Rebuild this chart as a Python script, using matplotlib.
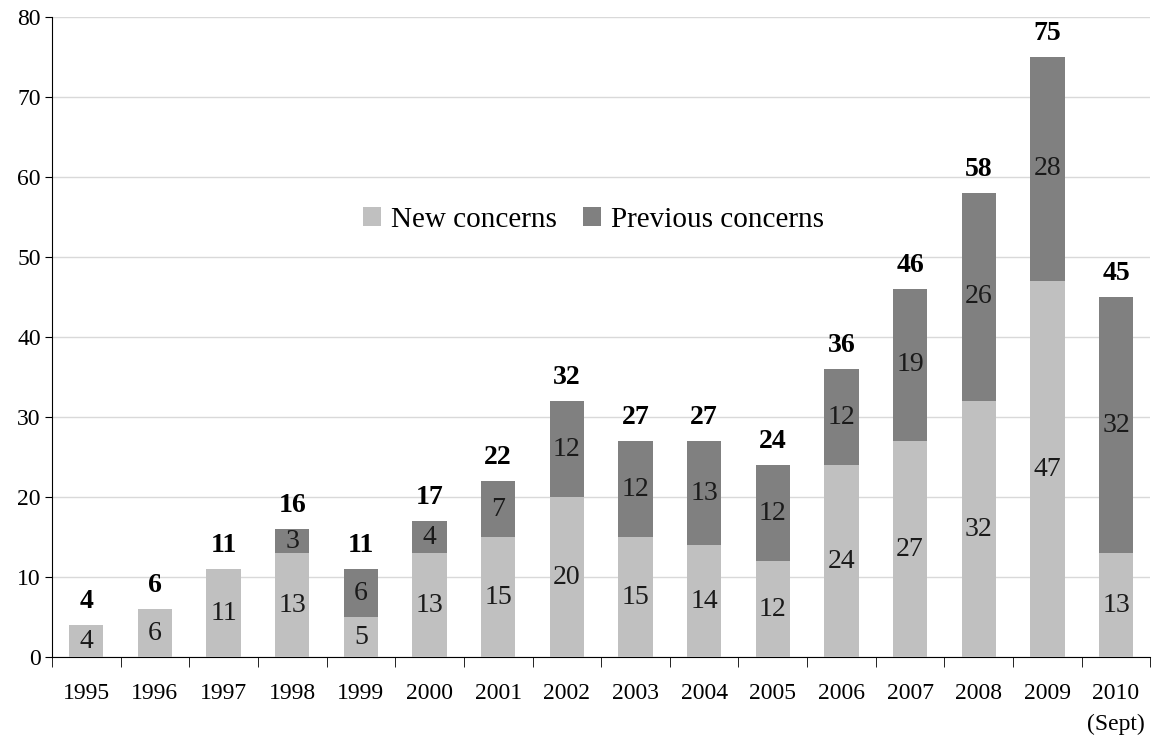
import matplotlib
matplotlib.use("Agg")
import matplotlib.pyplot as plt
import numpy as np

years = ["1995", "1996", "1997", "1998", "1999", "2000", "2001", "2002", "2003",
         "2004", "2005", "2006", "2007", "2008", "2009", "2010\n(Sept)"]
new_concerns = [4, 6, 11, 13, 5, 13, 15, 20, 15, 14, 12, 24, 27, 32, 47, 13]
prev_concerns = [0, 0, 0, 3, 6, 4, 7, 12, 12, 13, 12, 12, 19, 26, 28, 32]
totals = [4, 6, 11, 16, 11, 17, 22, 32, 27, 27, 24, 36, 46, 58, 75, 45]

plt.rcParams['font.family'] = ['Liberation Serif', 'DejaVu Serif']

fig = plt.figure(figsize=(11.55, 7.37), dpi=100)
ax = fig.add_axes([0.045, 0.1085, 0.951, 0.8685])

x = np.arange(len(years))
light = "#C0C0C0"
dark = "#808080"
w = 0.5
ax.bar(x, new_concerns, w, color=light, label="New concerns", zorder=3)
ax.bar(x, prev_concerns, w, bottom=new_concerns, color=dark,
       label="Previous concerns", zorder=3)

for i in range(len(x)):
    ax.text(x[i], new_concerns[i] / 2, str(new_concerns[i]), ha='center',
            va='center', fontsize=20, color='#1a1a1a', zorder=4)
    if prev_concerns[i] > 0:
        ax.text(x[i], new_concerns[i] + prev_concerns[i] / 2, str(prev_concerns[i]),
                ha='center', va='center', fontsize=20, color='#1a1a1a', zorder=4)
    ax.annotate(str(totals[i]), (x[i], totals[i]), xytext=(0, 8),
                textcoords='offset points', ha='center', va='bottom',
                fontsize=20, fontweight='bold', color='black')

ax.set_ylim(0, 80)
ax.set_xlim(-0.5, len(x) - 0.5)
ax.set_yticks(range(0, 81, 10))
ax.yaxis.grid(True, color='#D9D9D9', linewidth=1, zorder=0)
ax.set_axisbelow(True)
ax.tick_params(axis='y', labelsize=17, direction='out', length=5, color='black', pad=3)

ax.set_xticks(x)
ax.set_xticklabels(years, fontsize=17, va='top', linespacing=1.55)
ax.tick_params(axis='x', which='major', length=0, pad=19)
ax.set_xticks(np.arange(-0.5, len(x), 1.0), minor=True)
ax.tick_params(axis='x', which='minor', length=7, direction='out', color='black')

for s in ['top', 'right']:
    ax.spines[s].set_visible(False)
ax.spines['left'].set_color('black')
ax.spines['bottom'].set_color('black')

ax.legend(loc='center', bbox_to_anchor=(0.493, 0.683), ncol=2, frameon=False,
          fontsize=21, handlelength=0.6, handleheight=0.6, handletextpad=0.35,
          columnspacing=0.9)

fig.savefig("out.png", dpi=100)
